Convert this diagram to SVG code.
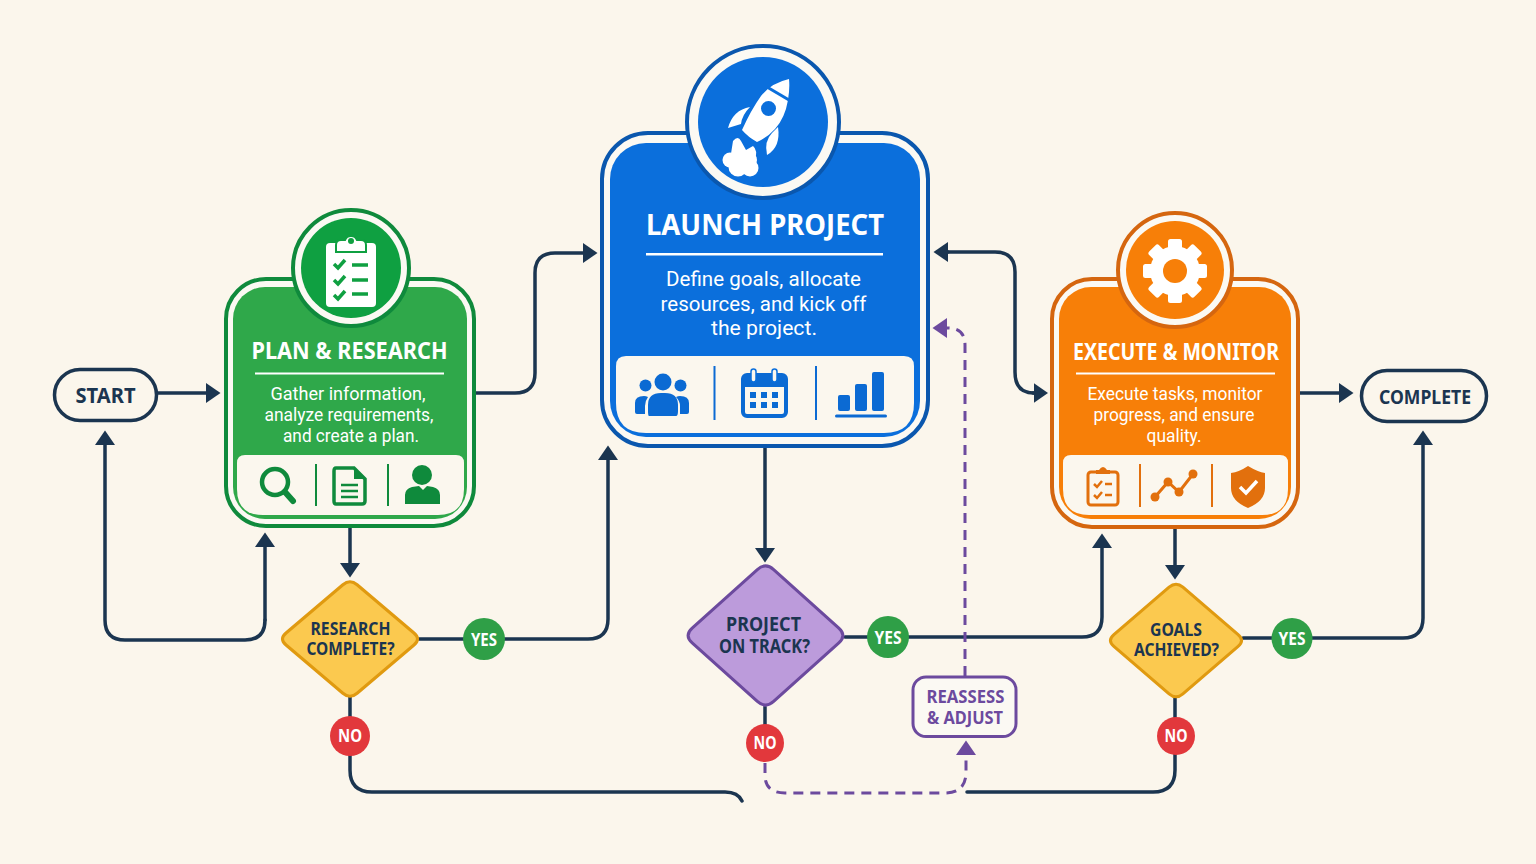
<svg xmlns="http://www.w3.org/2000/svg" width="1536" height="864" viewBox="0 0 1536 864">
<defs>
<marker id="nav" markerUnits="userSpaceOnUse" viewBox="0 0 15 22" refX="1" refY="11" markerWidth="15" markerHeight="22" orient="auto"><path d="M0 1 L14.5 11 L0 21 Z" fill="#1B3550"/></marker>
<marker id="pur" markerUnits="userSpaceOnUse" viewBox="0 0 15 22" refX="1" refY="11" markerWidth="15" markerHeight="22" orient="auto"><path d="M0 1 L14.5 11 L0 21 Z" fill="#6C4A9E"/></marker>
</defs>
<style>
text{font-family:"Noto Sans","Open Sans","Liberation Sans",sans-serif;text-anchor:middle}
.ln{fill:none;stroke:#1B3550;stroke-width:3.5;stroke-linecap:round}
.ah{marker-end:url(#nav)}
.da{fill:none;stroke:#6C4A9E;stroke-width:3;stroke-dasharray:10 7}
.tt{fill:#fff;font-weight:700}
.bd{fill:#fff;font-weight:400;font-family:Roboto,"Noto Sans",sans-serif}
.dk{fill:#1B3550;font-weight:700}
.pu{fill:#6C4A9E;font-weight:700;font-size:17.500px}
.bg{fill:#fff;font-weight:700;font-size:17px}
.pill{fill:#FBF6EC;stroke:#1B3550;stroke-width:3.5}
.yes{fill:#2F9F47}
.no{fill:#E2383C}
.wh{fill:#fff}
.gf{fill:#0F8A3C}.gs{fill:none;stroke:#0F8A3C}
.bf{fill:#0B6AD3}.bs{fill:none;stroke:#0B6AD3}
.of{fill:#E2700D}.os{fill:none;stroke:#E2700D}
</style>
<rect width="1536" height="864" fill="#FBF6EC"/>
<g id="connectors">
<path class="ln ah" d="M157 393 H207"/>
<path class="ln ah" d="M265 620 V546"/>
<path class="ln ah" d="M265 620 Q265 640 245 640 H125 Q105 640 105 620 V444"/>
<path class="ln ah" d="M476 393 H515 Q535 393 535 373 V273 Q535 253 555 253 H584"/>
<path class="ln ah" d="M350 528 V564"/>
<path class="ln ah" d="M419 639 H588 Q608 639 608 619 V459"/>
<path class="ln" d="M350 697 V770 Q350 792 372 792 H725 Q738 792 742 801"/>
<path class="ln ah" d="M765 448 V549"/>
<path class="ln" d="M765 707 V726"/>
<path class="ln ah" d="M845 637 H1082 Q1102 637 1102 617 V547"/>
<path class="ln" d="M967 792 H1153 Q1175 792 1175 770 V698"/>
<path class="ln ah" d="M1175 529 V566"/>
<path class="ln ah" d="M1243 638 H1403 Q1423 638 1423 618 V444"/>
<path class="ln ah" d="M1300 393 H1340"/>
<path class="ln" d="M947 252 H995 Q1015 252 1015 272 V372 Q1015 393 1034 393"/>
<path class="ln ah" d="M1033 393 H1034.500"/>
<path class="ln ah" d="M948 252 H947"/>
<path class="da" d="M765 763 V775 Q765 793 785 793 H945 Q966 793 966 772 V754" marker-end="url(#pur)"/>
<path class="da" d="M965 676 V345 Q965 328 948 328 H946" marker-end="url(#pur)"/>
</g>
<g id="start"><rect class="pill" x="54.5" y="369.5" width="102" height="51" rx="25.5"/><text class="dk" x="105.500" y="403" font-size="21" textLength="60" lengthAdjust="spacingAndGlyphs">START</text></g>
<g id="complete"><rect class="pill" x="1361.500" y="370.500" width="125" height="51" rx="25.500"/><text class="dk" x="1425" y="404" font-size="20" textLength="92" lengthAdjust="spacingAndGlyphs">COMPLETE</text></g>

<g id="plan-research">
<rect x="226" y="279" width="248" height="247" rx="40" fill="#FBF9F3" stroke="#0F8A3C" stroke-width="4"/>
<rect x="233" y="287" width="234" height="232" rx="32" fill="#2FA84A"/>
<path d="M245 455 H456 Q464 455 464 463 V489 Q464 515 438 515 H263 Q237 515 237 489 V463 Q237 455 245 455 Z" fill="#FBF7EE"/>
<circle cx="351" cy="268" r="58" fill="#FBF9F3" stroke="#0F8A3C" stroke-width="4"/>
<circle cx="351" cy="268" r="50" fill="#0FA041"/>
<rect x="326" y="243" width="50" height="64" rx="4" class="wh"/>
<path d="M336 252 V245 Q336 240 341 240 H345 A6.500 6.500 0 0 1 357 240 H361 Q366 240 366 245 V252 Z" class="wh" stroke="#0FA041" stroke-width="2"/>
<circle cx="351" cy="241" r="3" fill="#0FA041"/>
<g fill="none" stroke="#0FA041" stroke-width="3.500"><path d="M334 264 L338 268 L345 260 M352 265 H368 M334 280 L338 284 L345 276 M352 280 H368 M334 295 L338 299 L345 291 M352 294 H368"/></g>
<text class="tt" x="349.500" y="359" font-size="23" textLength="196" lengthAdjust="spacingAndGlyphs">PLAN &amp; RESEARCH</text>
<rect x="255" y="372.500" width="189" height="2" class="wh"/>
<text class="bd" x="348" y="400" font-size="18" textLength="155" lengthAdjust="spacingAndGlyphs">Gather information,</text>
<text class="bd" x="349" y="421" font-size="18" textLength="169" lengthAdjust="spacingAndGlyphs">analyze requirements,</text>
<text class="bd" x="351" y="442" font-size="18" textLength="136" lengthAdjust="spacingAndGlyphs">and create a plan.</text>
<circle cx="275" cy="482" r="13" class="gs" stroke-width="4.500"/>
<path d="M285 492 L293 501" class="gs" stroke-width="6" stroke-linecap="round"/>
<rect x="315" y="464" width="2" height="42" class="gf"/>
<rect x="387" y="464" width="2" height="42" class="gf"/>
<path d="M336 468 H354 L365 479 V501 Q365 504 362 504 H336 Q334 504 334 501 V471 Q334 468 336 468 Z" class="gs" stroke-width="3.500"/>
<path d="M354 468 V479 H365 Z" class="gf"/>
<path d="M341 485 H358 M341 491 H358 M341 497 H358" class="gs" stroke-width="2.500"/>
<circle cx="422" cy="475" r="10" class="gf"/>
<path d="M405 504 V495 Q405 489 412 487 L419 486 L423 490 L427 486 L433 487 Q440 489 440 495 V504 Z" class="gf"/>
</g>

<g id="launch-project">
<rect x="602" y="133" width="326" height="313" rx="46" fill="#FBF9F3" stroke="#0A57AE" stroke-width="4"/>
<rect x="610" y="143" width="310" height="294" rx="36" fill="#0B6FDC"/>
<path d="M626 356 H904 Q914 356 914 366 V403 Q914 433 884 433 H646 Q616 433 616 403 V366 Q616 356 626 356 Z" fill="#FBF7EE"/>
<circle cx="763" cy="122" r="76" fill="#FBF9F3" stroke="#0A57AE" stroke-width="4"/>
<circle cx="763" cy="122" r="65" fill="#0B6FDC"/>
<path class="wh" d="M789 79 Q771 83 761 96 Q751 110 742 130 Q748 137 757 142 Q768 137 775 129 Q785 118 788 100 Q790 88 789 79 Z"/>
<path class="wh" d="M750 107 Q733 110 728 128 L741 124 Q742 115 750 107 Z"/>
<path class="wh" d="M772 133 Q764 141 767 155 Q781 147 778 127 Z"/>
<path d="M767 87 L789 100" stroke="#0B6FDC" stroke-width="3" fill="none"/>
<circle cx="768.500" cy="108.500" r="7.500" fill="#0B6FDC"/>
<g class="wh"><circle cx="730" cy="160" r="7.500"/><circle cx="738" cy="167" r="9.500"/><circle cx="750" cy="168" r="8.500"/><circle cx="749" cy="160" r="8"/><path d="M733 141 Q738 135 741 141 L746 150 L753 146 Q758 150 755 160 L730 160 Z"/></g>
<text class="tt" x="765" y="235" font-size="28" textLength="238" lengthAdjust="spacingAndGlyphs">LAUNCH PROJECT</text>
<rect x="646" y="253" width="237" height="2.500" class="wh"/>
<text class="bd" x="763.500" y="286" font-size="21" textLength="195" lengthAdjust="spacingAndGlyphs">Define goals, allocate</text>
<text class="bd" x="763.500" y="311" font-size="21" textLength="206" lengthAdjust="spacingAndGlyphs">resources, and kick off</text>
<text class="bd" x="764" y="335" font-size="21" textLength="106" lengthAdjust="spacingAndGlyphs">the project.</text>
<rect x="713.500" y="366" width="2" height="54" class="bf"/>
<rect x="815" y="366" width="2" height="54" class="bf"/>
<circle cx="663" cy="382" r="8.500" class="bf"/><circle cx="645.500" cy="385.500" r="6" class="bf"/><circle cx="680.500" cy="385.500" r="6" class="bf"/>
<path class="bf" d="M649 416 Q648 416 648 411 V405 Q648 393 661 393 H665 Q678 393 678 405 V411 Q678 416 676 416 Z"/>
<path class="bf" d="M635 409 V403 Q635 396 644 396 Q646 396 648 397 Q645 401 645 406 V414 H637 Q635 414 635 412 Z M689 409 V403 Q689 396 680 396 Q678 396 676 397 Q680 401 680 406 V414 H687 Q689 414 689 412 Z"/>
<rect x="743" y="375" width="43" height="41" rx="4" class="bs" stroke-width="4"/>
<rect x="743" y="375" width="43" height="12" class="bf"/>
<rect x="751" y="369" width="5" height="13" rx="2.500" fill="#FBF7EE" stroke="#0B6FDC" stroke-width="1.500"/>
<rect x="772" y="369" width="5" height="13" rx="2.500" fill="#FBF7EE" stroke="#0B6FDC" stroke-width="1.500"/>
<g class="bf"><rect x="750" y="392" width="6" height="6"/><rect x="761" y="392" width="6" height="6"/><rect x="772" y="392" width="6" height="6"/><rect x="750" y="402" width="6" height="6"/><rect x="761" y="402" width="6" height="6"/><rect x="772" y="402" width="6" height="6"/></g>
<rect x="838" y="395" width="12" height="16" rx="2" class="bf"/><rect x="855" y="384" width="12" height="27" rx="2" class="bf"/><rect x="872" y="372" width="12" height="39" rx="2" class="bf"/>
<rect x="835" y="414.500" width="52" height="3" rx="1.500" class="bf"/>
</g>

<g id="execute-monitor">
<rect x="1052" y="279" width="246" height="248" rx="40" fill="#FBF9F3" stroke="#D5660F" stroke-width="4"/>
<rect x="1059" y="287" width="232" height="232" rx="32" fill="#F77F08"/>
<path d="M1071 455 H1280 Q1288 455 1288 463 V489 Q1288 515 1262 515 H1089 Q1063 515 1063 489 V463 Q1063 455 1071 455 Z" fill="#FBF7EE"/>
<circle cx="1175" cy="270" r="57" fill="#FBF9F3" stroke="#D5660F" stroke-width="4"/>
<circle cx="1175" cy="270" r="49" fill="#F77F08"/>
<g class="wh" transform="translate(1175 271)"><circle r="25"/><rect x="-7" y="-32" width="14" height="64" rx="2.500"/><rect x="-7" y="-32" width="14" height="64" rx="2.500" transform="rotate(45)"/><rect x="-7" y="-32" width="14" height="64" rx="2.500" transform="rotate(90)"/><rect x="-7" y="-32" width="14" height="64" rx="2.500" transform="rotate(135)"/></g>
<circle cx="1175" cy="271" r="12" fill="#F77F08"/>
<text class="tt" x="1176" y="360" font-size="23" textLength="206" lengthAdjust="spacingAndGlyphs">EXECUTE &amp; MONITOR</text>
<rect x="1076" y="372.500" width="199" height="2" class="wh"/>
<text class="bd" x="1175" y="400" font-size="18" textLength="175" lengthAdjust="spacingAndGlyphs">Execute tasks, monitor</text>
<text class="bd" x="1174" y="421" font-size="18" textLength="161" lengthAdjust="spacingAndGlyphs">progress, and ensure</text>
<text class="bd" x="1174" y="442" font-size="18" textLength="55" lengthAdjust="spacingAndGlyphs">quality.</text>
<rect x="1139" y="464" width="2" height="43" class="of"/>
<rect x="1211" y="464" width="2" height="43" class="of"/>
<rect x="1088" y="472" width="30" height="33" rx="3" class="os" stroke-width="3"/>
<path d="M1096 474 V470 H1099 Q1103 464 1107 470 H1110 V474 Z" class="of"/>
<path d="M1094 484 L1097 487 L1102 481 M1094 495 L1097 498 L1102 492 M1105 484 H1112 M1105 495 H1112" class="os" stroke-width="2.500"/>
<path d="M1155 497 L1168 482 L1179 492 L1193 474" class="os" stroke-width="3"/>
<g class="of"><circle cx="1155" cy="497" r="4.500"/><circle cx="1168" cy="482" r="4.500"/><circle cx="1179" cy="492" r="4.500"/><circle cx="1193" cy="474" r="4.500"/></g>
<path d="M1248 466 Q1258 472 1265 473 V488 Q1265 501 1248 508 Q1231 501 1231 488 V473 Q1239 472 1248 466 Z" class="of"/>
<path d="M1240 487 L1246 493 L1257 481" fill="none" stroke="#fff" stroke-width="3.500"/>
</g>

<g id="research-complete">
<path transform="translate(350 639) scale(1.03) translate(-350 -639)" d="M343.100 586.350 Q350 580.500 356.900 586.350 L412.100 633.150 Q419 639 412.100 644.850 L356.900 691.650 Q350 697.500 343.100 691.650 L287.900 644.850 Q281 639 287.900 633.150 Z" fill="#FBC94F" stroke="#E09A10" stroke-width="3"/>
<text class="dk" x="350.500" y="635" font-size="17.500" textLength="80" lengthAdjust="spacingAndGlyphs">RESEARCH</text><text class="dk" x="350.500" y="655" font-size="17.500" textLength="88" lengthAdjust="spacingAndGlyphs">COMPLETE?</text>
</g>
<g id="project-on-track">
<path transform="translate(765.500 635.500) scale(1.025) translate(-765.500 -635.500)" d="M757.550 571.150 Q765.500 564 773.450 571.150 L837.050 628.350 Q845 635.500 837.050 642.650 L773.450 699.850 Q765.500 707 757.550 699.850 L693.950 642.650 Q686 635.500 693.950 628.350 Z" fill="#BC9BDB" stroke="#6C4A9E" stroke-width="3"/>
<text class="dk" x="763.500" y="631" font-size="19" textLength="75" lengthAdjust="spacingAndGlyphs">PROJECT</text><text class="dk" x="764.500" y="653" font-size="19" textLength="91" lengthAdjust="spacingAndGlyphs">ON TRACK?</text>
</g>
<g id="goals-achieved">
<path transform="translate(1176 640.500) scale(1.03) translate(-1176 -640.500)" d="M1169.300 588.750 Q1176 583 1182.700 588.750 L1236.300 634.750 Q1243 640.500 1236.300 646.250 L1182.700 692.250 Q1176 698 1169.300 692.250 L1115.700 646.250 Q1109 640.500 1115.700 634.750 Z" fill="#FBC94F" stroke="#E09A10" stroke-width="3"/>
<text class="dk" x="1176" y="636" font-size="17.500" textLength="52" lengthAdjust="spacingAndGlyphs">GOALS</text><text class="dk" x="1176.500" y="656" font-size="17.500" textLength="85" lengthAdjust="spacingAndGlyphs">ACHIEVED?</text>
</g>
<g id="reassess-adjust">
<rect x="913" y="677" width="103" height="59.500" rx="13" fill="#FBF9F3" stroke="#6C4A9E" stroke-width="3"/>
<text class="pu" x="965.500" y="703" textLength="78" lengthAdjust="spacingAndGlyphs">REASSESS</text><text class="pu" x="965" y="724" textLength="76" lengthAdjust="spacingAndGlyphs">&amp; ADJUST</text>
</g>
<g id="yes-1"><circle class="yes" cx="484" cy="639" r="21"/><text class="bg" x="484" y="646" textLength="26" lengthAdjust="spacingAndGlyphs">YES</text></g>
<g id="no-1"><circle class="no" cx="350" cy="736" r="20"/><text class="bg" x="350" y="742" textLength="24" lengthAdjust="spacingAndGlyphs">NO</text></g>
<g id="yes-2"><circle class="yes" cx="888" cy="637" r="21"/><text class="bg" x="888" y="644" textLength="27" lengthAdjust="spacingAndGlyphs">YES</text></g>
<g id="no-2"><circle class="no" cx="765" cy="743" r="19"/><text class="bg" x="765" y="749" textLength="23" lengthAdjust="spacingAndGlyphs">NO</text></g>
<g id="yes-3"><circle class="yes" cx="1292" cy="638.500" r="20.500"/><text class="bg" x="1292" y="645" textLength="27" lengthAdjust="spacingAndGlyphs">YES</text></g>
<g id="no-3"><circle class="no" cx="1176" cy="736" r="19"/><text class="bg" x="1176" y="742" textLength="23" lengthAdjust="spacingAndGlyphs">NO</text></g>
</svg>
